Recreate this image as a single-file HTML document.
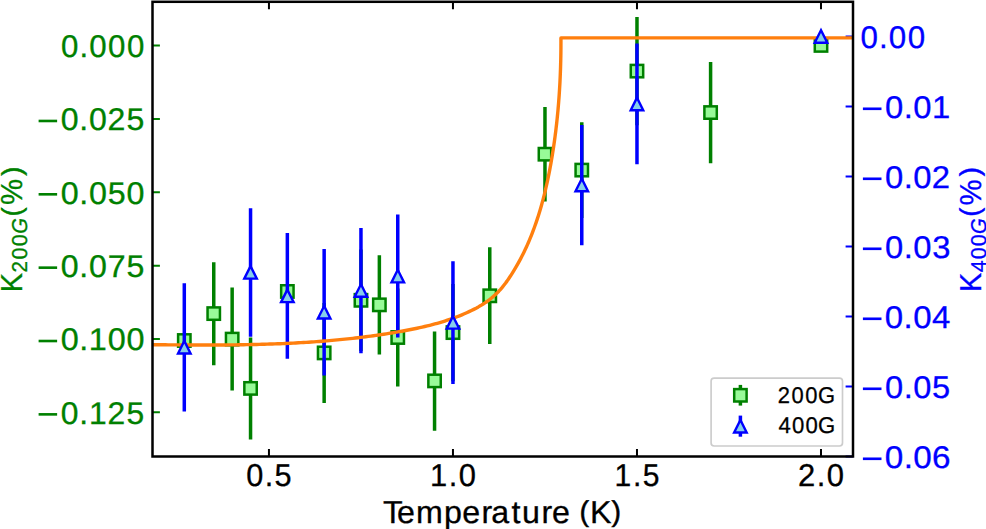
<!DOCTYPE html>
<html><head><meta charset="utf-8"><style>
html,body{margin:0;padding:0;background:#fff;width:986px;height:529px;overflow:hidden}
svg{display:block}
text{font-family:"Liberation Sans",sans-serif;stroke-width:0.3px;text-rendering:geometricPrecision}
</style></head><body>
<svg width="986" height="529" viewBox="0 0 986 529">
<rect width="986" height="529" fill="#fff"/>
<defs><clipPath id="ax"><rect x="152.5" y="1.8" width="700.5" height="454.7"/></clipPath></defs>
<g clip-path="url(#ax)">
<path d="M213.75 262.20V365.20M232.15 287.60V390.60M250.55 337.40V439.40M324.15 302.90V402.90M360.96 249.50V351.10M379.36 255.20V354.40M397.76 288.50V386.50M434.56 331.40V430.70M452.96 284.00V381.20M489.77 247.20V344.10M544.97 107.10V201.40M581.78 122.20V218.00M636.98 17.00V125.20M710.59 62.00V163.20" stroke="#008000" stroke-width="3.5" fill="none"/>
<rect x="178.10" y="334.30" width="12.40" height="12.40" fill="#98fb98" stroke="#008000" stroke-width="2.5"/>
<rect x="207.55" y="307.40" width="12.40" height="12.40" fill="#98fb98" stroke="#008000" stroke-width="2.5"/>
<rect x="225.95" y="332.90" width="12.40" height="12.40" fill="#98fb98" stroke="#008000" stroke-width="2.5"/>
<rect x="244.35" y="382.20" width="12.40" height="12.40" fill="#98fb98" stroke="#008000" stroke-width="2.5"/>
<rect x="281.15" y="285.25" width="12.40" height="12.40" fill="#98fb98" stroke="#008000" stroke-width="2.5"/>
<rect x="317.95" y="346.70" width="12.40" height="12.40" fill="#98fb98" stroke="#008000" stroke-width="2.5"/>
<rect x="354.76" y="294.10" width="12.40" height="12.40" fill="#98fb98" stroke="#008000" stroke-width="2.5"/>
<rect x="373.16" y="298.65" width="12.40" height="12.40" fill="#98fb98" stroke="#008000" stroke-width="2.5"/>
<rect x="391.56" y="331.30" width="12.40" height="12.40" fill="#98fb98" stroke="#008000" stroke-width="2.5"/>
<rect x="428.36" y="374.70" width="12.40" height="12.40" fill="#98fb98" stroke="#008000" stroke-width="2.5"/>
<rect x="446.76" y="326.40" width="12.40" height="12.40" fill="#98fb98" stroke="#008000" stroke-width="2.5"/>
<rect x="483.57" y="289.60" width="12.40" height="12.40" fill="#98fb98" stroke="#008000" stroke-width="2.5"/>
<rect x="538.77" y="148.00" width="12.40" height="12.40" fill="#98fb98" stroke="#008000" stroke-width="2.5"/>
<rect x="575.58" y="163.90" width="12.40" height="12.40" fill="#98fb98" stroke="#008000" stroke-width="2.5"/>
<rect x="630.78" y="64.90" width="12.40" height="12.40" fill="#98fb98" stroke="#008000" stroke-width="2.5"/>
<rect x="704.39" y="106.35" width="12.40" height="12.40" fill="#98fb98" stroke="#008000" stroke-width="2.5"/>
<rect x="814.79" y="39.20" width="12.40" height="12.40" fill="#98fb98" stroke="#008000" stroke-width="2.5"/>
<path d="M184.30 283.20V411.50M250.55 208.20V336.80M287.35 232.90V358.80M324.15 249.00V375.50M360.96 227.90V353.30M397.76 214.60V337.40M452.96 261.20V384.10M581.78 124.90V245.30M636.98 43.60V164.20" stroke="#0000ff" stroke-width="3.5" fill="none"/>
</g>
<path d="M152.50 45.60h7.4M152.50 118.95h7.4M152.50 192.30h7.4M152.50 265.64h7.4M152.50 338.99h7.4M152.50 412.34h7.4" stroke="#008000" stroke-width="2" fill="none"/>
<path d="M853.00 36.50h-7.4M853.00 106.50h-7.4M853.00 176.50h-7.4M853.00 246.50h-7.4M853.00 316.50h-7.4M853.00 386.50h-7.4M853.00 456.50h-7.4" stroke="#0000ff" stroke-width="2" fill="none"/>
<path d="M268.95 456.50v-7.4M268.95 1.80v7.4M452.96 456.50v-7.4M452.96 1.80v7.4M636.98 456.50v-7.4M636.98 1.80v7.4M820.99 456.50v-7.4M820.99 1.80v7.4" stroke="#000" stroke-width="2" fill="none"/>
<g clip-path="url(#ax)">
<path d="M148 344.71L152.50 344.71L155.10 344.73L157.70 344.76L160.30 344.78L162.91 344.80L165.51 344.82L168.11 344.84L170.72 344.86L173.32 344.88L175.92 344.90L178.53 344.92L181.13 344.94L183.74 344.95L186.34 344.97L188.94 344.98L191.55 344.99L194.15 345.00L196.76 345.00L199.36 345.01L201.97 345.01L204.58 345.02L207.18 345.01L209.79 345.01L212.39 345.01L215.00 345.00L217.60 344.99L220.21 344.97L222.81 344.96L225.42 344.94L228.03 344.92L230.63 344.89L233.24 344.86L235.84 344.83L238.45 344.80L241.05 344.76L243.66 344.72L246.26 344.67L248.87 344.62L251.47 344.57L254.07 344.51L256.68 344.45L259.28 344.38L261.89 344.31L264.49 344.24L267.09 344.16L269.69 344.07L272.30 343.98L274.90 343.89L277.50 343.79L280.10 343.69L282.70 343.58L285.30 343.47L287.90 343.35L290.50 343.22L293.10 343.09L295.70 342.96L298.30 342.81L300.90 342.67L303.50 342.51L306.09 342.35L308.69 342.19L311.29 342.01L313.88 341.84L316.48 341.65L319.07 341.46L321.67 341.26L324.26 341.06L326.85 340.84L329.44 340.62L332.04 340.40L334.63 340.16L337.22 339.92L339.81 339.68L342.40 339.42L344.98 339.16L347.57 338.89L350.16 338.61L352.74 338.32L355.33 338.02L357.91 337.72L360.50 337.41L363.08 337.09L365.66 336.76L368.24 336.43L370.82 336.08L373.40 335.73L375.98 335.36L378.56 334.99L381.14 334.61L383.71 334.22L386.29 333.82L388.86 333.41L391.43 333.00L394.01 332.57L396.58 332.13L399.15 331.68L401.71 331.23L404.28 330.76L406.85 330.28L409.41 329.79L411.97 329.28L414.53 328.76L417.08 328.23L419.63 327.68L422.18 327.11L424.72 326.52L427.26 325.91L429.79 325.29L432.31 324.64L434.82 323.97L437.33 323.27L439.83 322.55L442.33 321.81L444.81 321.04L447.29 320.24L449.75 319.41L452.21 318.56L454.66 317.67L457.09 316.75L459.51 315.80L461.93 314.82L464.32 313.80L466.71 312.75L469.08 311.66L471.44 310.53L473.77 309.36L476.08 308.15L478.36 306.89L480.61 305.58L482.82 304.22L485.00 302.81L487.13 301.34L489.21 299.81L491.25 298.22L493.23 296.57L495.15 294.85L497.01 293.07L498.81 291.21L500.55 289.30L502.24 287.33L503.87 285.30L505.46 283.23L507.00 281.13L508.50 278.98L509.96 276.81L511.39 274.62L512.78 272.41L514.15 270.19L515.49 267.95L516.80 265.70L518.08 263.43L519.33 261.15L520.56 258.86L521.75 256.55L522.93 254.23L524.07 251.90L525.19 249.56L526.29 247.20L527.36 244.84L528.40 242.46L529.42 240.07L530.42 237.67L531.39 235.26L532.34 232.84L533.26 230.41L534.17 227.97L535.05 225.53L535.91 223.07L536.75 220.61L537.57 218.13L538.37 215.65L539.14 213.17L539.90 210.67L540.64 208.17L541.36 205.66L542.06 203.15L542.74 200.63L543.41 198.11L544.06 195.58L544.69 193.04L545.30 190.50L545.90 187.96L546.48 185.41L547.05 182.86L547.60 180.30L548.14 177.75L548.67 175.19L549.18 172.62L549.67 170.06L550.15 167.49L550.63 164.92L551.08 162.35L551.53 159.78L551.96 157.21L552.39 154.64L552.80 152.07L553.20 149.50L553.59 146.93L553.97 144.35L554.34 141.78L554.69 139.20L555.04 136.63L555.37 134.05L555.70 131.47L556.01 128.89L556.31 126.32L556.61 123.74L556.89 121.15L557.16 118.57L557.42 115.99L557.68 113.41L557.92 110.82L558.15 108.24L558.37 105.65L558.58 103.06L558.78 100.47L558.98 97.88L559.16 95.29L559.33 92.70L559.50 90.11L559.65 87.51L559.80 84.91L559.94 82.32L560.06 79.72L560.18 77.12L560.29 74.52L560.39 71.91L560.49 69.31L560.57 66.70L560.64 64.10L560.71 61.49L560.77 58.88L560.82 56.27L560.86 53.65L560.89 51.04L560.92 48.42L560.93 45.80L560.94 43.18L560.95 40.56L560.94 37.94L560.94 37.9L860 37.9" stroke="#ff7f0e" stroke-width="3.4" fill="none" stroke-linejoin="round"/>
<path d="M184.30 341.03L178.03 353.57L190.58 353.57Z" fill="#87ceeb" stroke="#0000ff" stroke-width="2.4" stroke-linejoin="miter" stroke-miterlimit="10"/>
<path d="M250.55 266.12L244.27 278.67L256.82 278.67Z" fill="#87ceeb" stroke="#0000ff" stroke-width="2.4" stroke-linejoin="miter" stroke-miterlimit="10"/>
<path d="M287.35 289.62L281.08 302.17L293.63 302.17Z" fill="#87ceeb" stroke="#0000ff" stroke-width="2.4" stroke-linejoin="miter" stroke-miterlimit="10"/>
<path d="M324.15 306.03L317.88 318.57L330.43 318.57Z" fill="#87ceeb" stroke="#0000ff" stroke-width="2.4" stroke-linejoin="miter" stroke-miterlimit="10"/>
<path d="M360.96 284.23L354.68 296.77L367.23 296.77Z" fill="#87ceeb" stroke="#0000ff" stroke-width="2.4" stroke-linejoin="miter" stroke-miterlimit="10"/>
<path d="M397.76 269.83L391.49 282.38L404.04 282.38Z" fill="#87ceeb" stroke="#0000ff" stroke-width="2.4" stroke-linejoin="miter" stroke-miterlimit="10"/>
<path d="M452.96 316.12L446.69 328.67L459.24 328.67Z" fill="#87ceeb" stroke="#0000ff" stroke-width="2.4" stroke-linejoin="miter" stroke-miterlimit="10"/>
<path d="M581.78 178.72L575.50 191.28L588.05 191.28Z" fill="#87ceeb" stroke="#0000ff" stroke-width="2.4" stroke-linejoin="miter" stroke-miterlimit="10"/>
<path d="M636.98 97.62L630.71 110.18L643.25 110.18Z" fill="#87ceeb" stroke="#0000ff" stroke-width="2.4" stroke-linejoin="miter" stroke-miterlimit="10"/>
<path d="M820.99 30.23L814.72 42.77L827.27 42.77Z" fill="#87ceeb" stroke="#0000ff" stroke-width="2.4" stroke-linejoin="miter" stroke-miterlimit="10"/>
</g>
<rect x="152.5" y="1.8" width="700.50" height="454.70" fill="none" stroke="#000" stroke-width="2.5" stroke-linejoin="miter"/>
<rect x="711.1" y="378.1" width="131.4" height="67.9" rx="3" fill="#fff" fill-opacity="0.8" stroke="#cccccc" stroke-width="1.67"/>
<path d="M740.4 384.9V405.6" stroke="#008000" stroke-width="3.5"/>
<path d="M740.4 415.6V436.7" stroke="#0000ff" stroke-width="3.5"/>
<rect x="734.20" y="389.10" width="12.40" height="12.40" fill="#98fb98" stroke="#008000" stroke-width="2.5"/>
<path d="M740.40 419.93L734.12 432.47L746.67 432.47Z" fill="#87ceeb" stroke="#0000ff" stroke-width="2.4" stroke-linejoin="miter" stroke-miterlimit="10"/>
<g font-family="Liberation Sans, sans-serif">
<text transform="scale(0.9961,1)" x="61.22 79.76 89.58 108.48 127.39" y="56.9" font-size="31.36" fill="#008000" stroke="#008000">0.000</text>
<rect x="38.60" y="119.67" width="18.53" height="2.61" fill="#008000"/><text transform="scale(1.0220,1)" x="59.45 77.62 87.08 105.13 123.82" y="130.25" font-size="31.36" fill="#008000" stroke="#008000">0.025</text>
<rect x="38.60" y="193.01" width="18.53" height="2.61" fill="#008000"/><text transform="scale(1.0283,1)" x="59.03 77.12 86.49 104.7 123.12" y="203.6" font-size="31.36" fill="#008000" stroke="#008000">0.050</text>
<rect x="38.60" y="266.36" width="18.53" height="2.61" fill="#008000"/><text transform="scale(1.0247,1)" x="59.27 77.41 86.83 105.16 123.48" y="276.94" font-size="31.36" fill="#008000" stroke="#008000">0.075</text>
<rect x="38.60" y="339.71" width="18.53" height="2.61" fill="#008000"/><text transform="scale(1.0319,1)" x="58.8 76.84 85.99 104.41 122.66" y="350.29" font-size="31.36" fill="#008000" stroke="#008000">0.100</text>
<rect x="38.60" y="413.06" width="18.53" height="2.61" fill="#008000"/><text transform="scale(1.0146,1)" x="59.95 78.22 87.62 105.96 124.8" y="423.64" font-size="31.36" fill="#008000" stroke="#008000">0.125</text>
<text transform="scale(0.9965,1)" x="863.51 882.1 891.95 910.91" y="48.1" font-size="31.47" fill="#0000ff" stroke="#0000ff">0.00</text>
<rect x="862.90" y="107.48" width="18.59" height="2.62" fill="#0000ff"/><text transform="scale(1.0409,1)" x="850.2 868.18 877.42 895.4" y="118.1" font-size="31.47" fill="#0000ff" stroke="#0000ff">0.01</text>
<rect x="862.90" y="177.48" width="18.59" height="2.62" fill="#0000ff"/><text transform="scale(1.0418,1)" x="849.46 867.44 876.66 894.43" y="188.1" font-size="31.47" fill="#0000ff" stroke="#0000ff">0.02</text>
<rect x="862.90" y="247.48" width="18.59" height="2.62" fill="#0000ff"/><text transform="scale(1.0402,1)" x="850.78 868.77 878.02 896.23" y="258.1" font-size="31.47" fill="#0000ff" stroke="#0000ff">0.03</text>
<rect x="862.90" y="317.48" width="18.59" height="2.62" fill="#0000ff"/><text transform="scale(1.0487,1)" x="843.79 861.67 870.81 888.83" y="328.1" font-size="31.47" fill="#0000ff" stroke="#0000ff">0.04</text>
<rect x="862.90" y="387.48" width="18.59" height="2.62" fill="#0000ff"/><text transform="scale(1.0363,1)" x="854.01 872.05 881.35 899.48" y="398.1" font-size="31.47" fill="#0000ff" stroke="#0000ff">0.05</text>
<rect x="862.90" y="457.48" width="18.59" height="2.62" fill="#0000ff"/><text transform="scale(1.0579,1)" x="836.42 854.18 863.2 881.06" y="468.1" font-size="31.47" fill="#0000ff" stroke="#0000ff">0.06</text>
<text transform="scale(0.9719,1)" x="253.41 272.43 282.55" y="486.1" font-size="31.58" fill="#000" stroke="#000">0.5</text>
<text transform="scale(0.9781,1)" x="439.71 458.79 468.93" y="486.1" font-size="31.58" fill="#000" stroke="#000">1.0</text>
<text transform="scale(0.9516,1)" x="645.63 665.1 675.54" y="486.1" font-size="31.58" fill="#000" stroke="#000">1.5</text>
<text transform="scale(0.9814,1)" x="813.02 832.29 842.39" y="486.1" font-size="31.58" fill="#000" stroke="#000">2.0</text>
<text transform="matrix(0.9,0,0,0.9022,0,49.173)" x="643.81" y="523" font-size="31.79" fill="#000" stroke="#000" style="stroke-width:0.55px">(</text><text transform="matrix(0.9,0,0,0.9022,0,49.173)" x="679.50" y="523" font-size="31.79" fill="#000" stroke="#000" style="stroke-width:0.55px">)</text><text transform="scale(1.0126,1)" x="378.35 392.11 410.76 438.56 456.56 475.45 485.09 505.11 515.57 534.84 545.07 562.61 582.78" y="523" font-size="31.79" fill="#000" stroke="#000">Temperature K</text>
<text transform="scale(0.9634,1)" x="807.27 821.7 835.85 849" y="402.5" font-size="22.78" fill="#000" stroke="#000">200G</text>
<text transform="scale(0.9719,1)" x="800.93 814.81 828.7 841.58" y="432.9" font-size="22.78" fill="#000" stroke="#000">400G</text>
</g>
<g transform="translate(22.4,289.7) rotate(-90)" fill="#008000" stroke="#008000" font-family="Liberation Sans, sans-serif"><text transform="scale(0.9518,1)" x="-2.65" y="0" font-size="30.31">K</text><text transform="scale(0.9589,1)" x="17.89" y="5" font-size="21.51">2</text><text transform="scale(0.9948,1)" x="30.47" y="5" font-size="21.51">0</text><text transform="scale(0.9948,1)" x="43.64" y="5" font-size="21.51">0</text><text transform="scale(0.9363,1)" x="59.72" y="5" font-size="21.51" font-style="italic">G</text><text transform="matrix(0.9,0,0,0.9022,0,-1.890)" x="81.3" y="0" font-size="30.31" style="stroke-width:0.55px">(</text><text transform="scale(0.9691,1)" x="87.37" y="0" font-size="30.31">%</text><text transform="matrix(0.9,0,0,0.9022,0,-1.890)" x="126.64" y="0" font-size="30.31" style="stroke-width:0.55px">)</text></g>
<g transform="translate(980.9,289.4) rotate(-90)" fill="#0000ff" stroke="#0000ff" font-family="Liberation Sans, sans-serif"><text transform="scale(0.9518,1)" x="-2.71" y="0" font-size="30.31">K</text><text transform="scale(0.9949,1)" x="17.14" y="5" font-size="21.51">4</text><text transform="scale(0.9948,1)" x="30.23" y="5" font-size="21.51">0</text><text transform="scale(0.9948,1)" x="43.32" y="5" font-size="21.51">0</text><text transform="scale(0.9363,1)" x="59.27" y="5" font-size="21.51" font-style="italic">G</text><text transform="matrix(0.9,0,0,0.9022,0,-1.890)" x="80.72" y="0" font-size="30.31" style="stroke-width:0.55px">(</text><text transform="scale(0.9691,1)" x="86.7" y="0" font-size="30.31">%</text><text transform="matrix(0.9,0,0,0.9022,0,-1.890)" x="125.78" y="0" font-size="30.31" style="stroke-width:0.55px">)</text></g>
</svg>
</body></html>
